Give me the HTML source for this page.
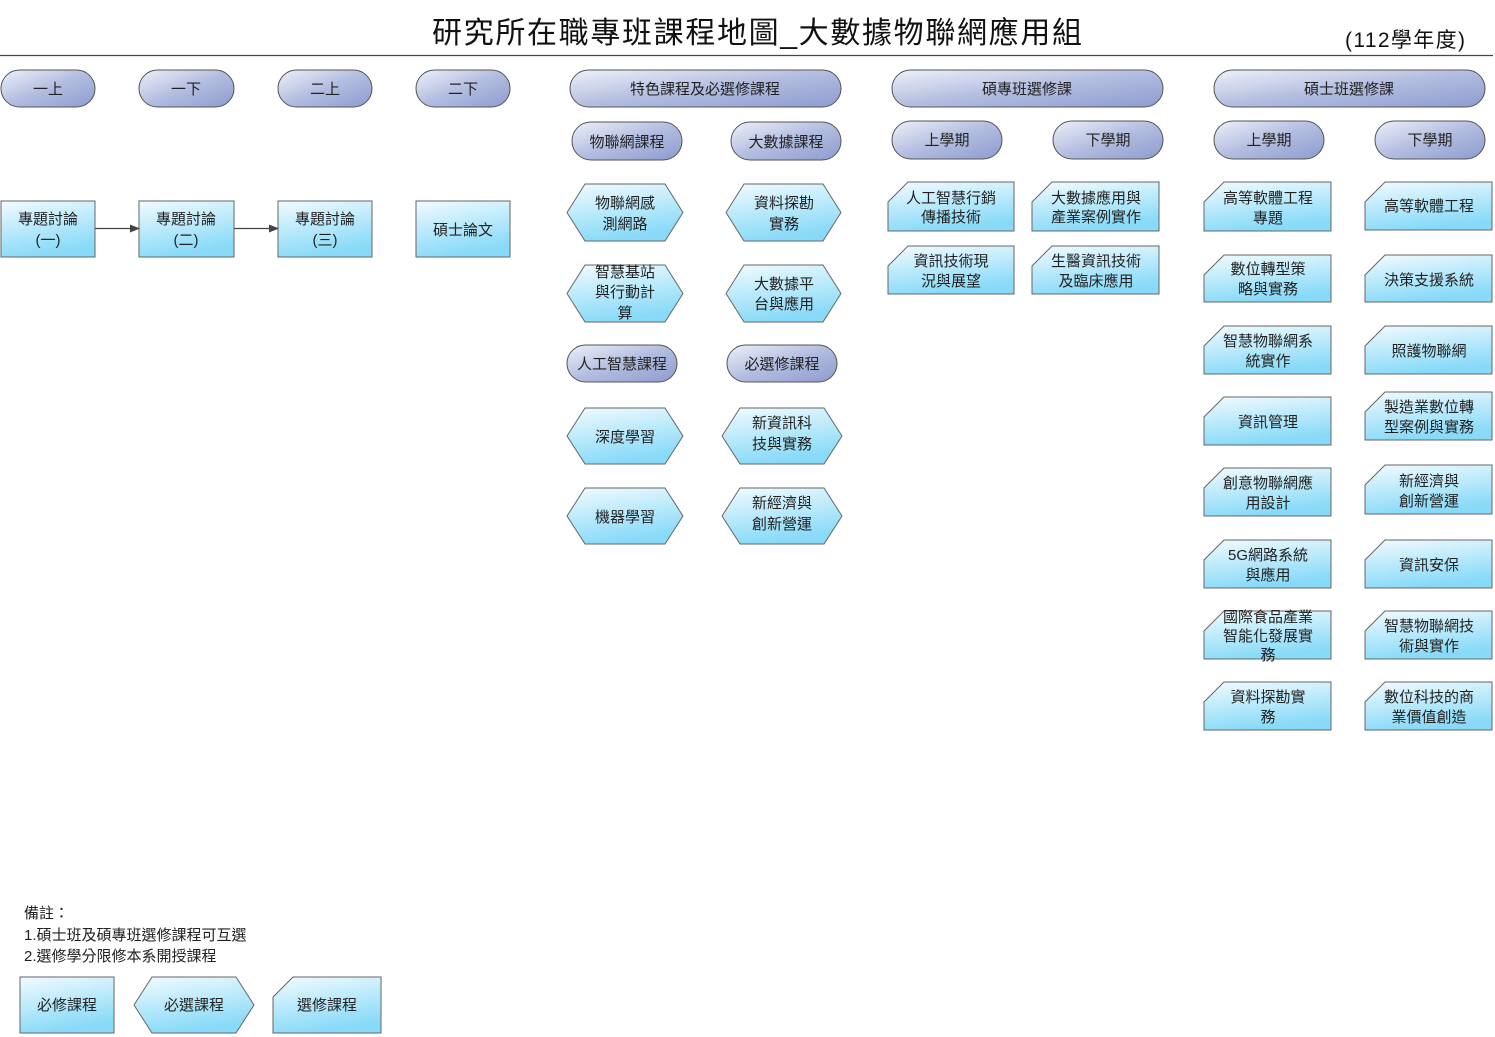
<!DOCTYPE html>
<html><head><meta charset="utf-8"><style>
html,body{margin:0;padding:0;background:#fff;}
svg{display:block;font-family:"Liberation Sans","Noto Sans CJK TC","WenQuanYi Zen Hei",sans-serif;}
</style></head><body>
<svg width="1495" height="1037" viewBox="0 0 1495 1037" xmlns="http://www.w3.org/2000/svg">
<defs>
<linearGradient id="pg" x1="0" y1="0" x2="1" y2="1">
<stop offset="0" stop-color="#eef1f9"/><stop offset="0.5" stop-color="#b3bde0"/><stop offset="1" stop-color="#8d9ccf"/>
</linearGradient>
<linearGradient id="bg" x1="0" y1="0" x2="0.3" y2="1">
<stop offset="0" stop-color="#f2fbff"/><stop offset="1" stop-color="#88daf8"/>
</linearGradient>
<marker id="ar" markerWidth="10" markerHeight="8" refX="9" refY="4" orient="auto" markerUnits="userSpaceOnUse"><path d="M0,0 L10,4 L0,8 z" fill="#444"/></marker>
</defs>
<text x="432" y="43" font-size="30" textLength="650" lengthAdjust="spacing" fill="#111">研究所在職專班課程地圖_大數據物聯網應用組</text>
<text x="1345" y="47" font-size="21" textLength="120" lengthAdjust="spacing" fill="#111">(112學年度)</text>
<line x1="0" y1="55.5" x2="1493" y2="55.5" stroke="#444" stroke-width="1.2"/>

<g stroke="#555" stroke-width="1" fill="url(#pg)">
<rect x="1" y="70" width="94" height="37" rx="18.5"/>
<rect x="139" y="70" width="95" height="37" rx="18.5"/>
<rect x="278" y="70" width="94" height="37" rx="18.5"/>
<rect x="416" y="70" width="94" height="37" rx="18.5"/>
<rect x="570" y="70" width="271" height="37" rx="18.5"/>
<rect x="892" y="70" width="271" height="37" rx="18.5"/>
<rect x="1214" y="70" width="271" height="37" rx="18.5"/>
<rect x="572" y="122" width="110" height="38" rx="19"/>
<rect x="731" y="122" width="110" height="38" rx="19"/>
<rect x="892" y="121" width="110" height="38" rx="19"/>
<rect x="1053" y="121" width="110" height="38" rx="19"/>
<rect x="1214" y="121" width="110" height="38" rx="19"/>
<rect x="1375" y="121" width="110" height="38" rx="19"/>
<rect x="567" y="345" width="110" height="37" rx="18.5"/>
<rect x="727" y="345" width="110" height="37" rx="18.5"/>
</g>
<g font-size="15" text-anchor="middle" fill="#222">
<text x="48" y="94">一上</text><text x="186" y="94">一下</text><text x="325" y="94">二上</text><text x="463" y="94">二下</text>
<text x="705" y="94">特色課程及必選修課程</text><text x="1027" y="94">碩專班選修課</text><text x="1349" y="94">碩士班選修課</text>
<text x="627" y="147">物聯網課程</text><text x="786" y="147">大數據課程</text>
<text x="947" y="145">上學期</text><text x="1108" y="145">下學期</text>
<text x="1269" y="145">上學期</text><text x="1430" y="145">下學期</text>
<text x="622" y="369">人工智慧課程</text><text x="782" y="369">必選修課程</text>
</g>

<g stroke="#666" stroke-width="1" fill="url(#bg)">
<rect x="1" y="201" width="94" height="56"/>
<rect x="139" y="201" width="95" height="56"/>
<rect x="278" y="201" width="94" height="56"/>
<rect x="416" y="201" width="94" height="56"/>
<rect x="20" y="977" width="94" height="56"/>
</g>
<g stroke="#444" stroke-width="1.2">
<line x1="95" y1="228.5" x2="139" y2="228.5" marker-end="url(#ar)"/>
<line x1="234" y1="228.5" x2="278" y2="228.5" marker-end="url(#ar)"/>
</g>
<g font-size="15" text-anchor="middle" fill="#222">
<text x="48" y="224">專題討論</text><text x="48" y="245">(一)</text>
<text x="186" y="224">專題討論</text><text x="186" y="245">(二)</text>
<text x="325" y="224">專題討論</text><text x="325" y="245">(三)</text>
<text x="463" y="235">碩士論文</text>
<text x="67" y="1010">必修課程</text>
</g>

<g stroke="#666" stroke-width="1" fill="url(#bg)">
<path d="M567,212.5 L585,184 L665,184 L683,212.5 L665,241 L585,241 Z"/>
<path d="M726,212.5 L744,184 L823,184 L841,212.5 L823,241 L744,241 Z"/>
<path d="M567,293.5 L585,265 L665,265 L683,293.5 L665,322 L585,322 Z"/>
<path d="M726,293.5 L744,265 L823,265 L841,293.5 L823,322 L744,322 Z"/>
<path d="M567,436 L585,408 L665,408 L683,436 L665,464 L585,464 Z"/>
<path d="M722,436 L740,408 L824,408 L842,436 L824,464 L740,464 Z"/>
<path d="M567,516 L585,488 L665,488 L683,516 L665,544 L585,544 Z"/>
<path d="M722,516 L740,488 L824,488 L842,516 L824,544 L740,544 Z"/>
<path d="M134,1005 L152,977 L236,977 L254,1005 L236,1033 L152,1033 Z"/>
</g>
<g font-size="15" text-anchor="middle" fill="#222">
<text x="625" y="208">物聯網感</text><text x="625" y="229">測網路</text>
<text x="784" y="208">資料探勘</text><text x="784" y="229">實務</text>
<text x="625" y="277">智慧基站</text><text x="625" y="297">與行動計</text><text x="625" y="318">算</text>
<text x="784" y="289">大數據平</text><text x="784" y="309">台與應用</text>
<text x="625" y="442">深度學習</text>
<text x="782" y="428">新資訊科</text><text x="782" y="449">技與實務</text>
<text x="625" y="522">機器學習</text>
<text x="782" y="508">新經濟與</text><text x="782" y="529">創新營運</text>
<text x="194" y="1010">必選課程</text>
</g>

<g stroke="#666" stroke-width="1" fill="url(#bg)">
<path d="M888,231 L888,202 L908,182 L1014,182 L1014,231 Z"/>
<path d="M1032,231 L1032,202 L1052,182 L1159,182 L1159,231 Z"/>
<path d="M888,294 L888,266 L908,246 L1014,246 L1014,294 Z"/>
<path d="M1032,294 L1032,266 L1052,246 L1159,246 L1159,294 Z"/>

<path d="M1204,231 L1204,202 L1224,182 L1331,182 L1331,231 Z"/>
<path d="M1204,302 L1204,275 L1224,255 L1331,255 L1331,302 Z"/>
<path d="M1204,374 L1204,346 L1224,326 L1331,326 L1331,374 Z"/>
<path d="M1204,445 L1204,417 L1224,397 L1331,397 L1331,445 Z"/>
<path d="M1204,516 L1204,488 L1224,468 L1331,468 L1331,516 Z"/>
<path d="M1204,588 L1204,560 L1224,540 L1331,540 L1331,588 Z"/>
<path d="M1204,659 L1204,631 L1224,611 L1331,611 L1331,659 Z"/>
<path d="M1204,730 L1204,702 L1224,682 L1331,682 L1331,730 Z"/>

<path d="M1365,230 L1365,202 L1385,182 L1492,182 L1492,230 Z"/>
<path d="M1365,302 L1365,275 L1385,255 L1492,255 L1492,302 Z"/>
<path d="M1365,374 L1365,346 L1385,326 L1492,326 L1492,374 Z"/>
<path d="M1365,440 L1365,412 L1385,392 L1492,392 L1492,440 Z"/>
<path d="M1365,514 L1365,485 L1385,465 L1492,465 L1492,514 Z"/>
<path d="M1365,588 L1365,560 L1385,540 L1492,540 L1492,588 Z"/>
<path d="M1365,659 L1365,631 L1385,611 L1492,611 L1492,659 Z"/>
<path d="M1365,730 L1365,702 L1385,682 L1492,682 L1492,730 Z"/>

<path d="M273,1033 L273,997 L293,977 L381,977 L381,1033 Z"/>
</g>
<g font-size="15" text-anchor="middle" fill="#222">
<text x="951" y="203">人工智慧行銷</text><text x="951" y="222">傳播技術</text>
<text x="1096" y="203">大數據應用與</text><text x="1096" y="222">產業案例實作</text>
<text x="951" y="266">資訊技術現</text><text x="951" y="286">況與展望</text>
<text x="1096" y="266">生醫資訊技術</text><text x="1096" y="286">及臨床應用</text>

<text x="1268" y="203">高等軟體工程</text><text x="1268" y="223">專題</text>
<text x="1268" y="274">數位轉型策</text><text x="1268" y="294">略與實務</text>
<text x="1268" y="346">智慧物聯網系</text><text x="1268" y="366">統實作</text>
<text x="1268" y="427">資訊管理</text>
<text x="1268" y="488">創意物聯網應</text><text x="1268" y="508">用設計</text>
<text x="1268" y="560">5G網路系統</text><text x="1268" y="580">與應用</text>
<text x="1268" y="622">國際食品產業</text><text x="1268" y="641">智能化發展實</text><text x="1268" y="660">務</text>
<text x="1268" y="702">資料探勘實</text><text x="1268" y="722">務</text>

<text x="1429" y="211">高等軟體工程</text>
<text x="1429" y="285">決策支援系統</text>
<text x="1429" y="356">照護物聯網</text>
<text x="1429" y="412">製造業數位轉</text><text x="1429" y="432">型案例與實務</text>
<text x="1429" y="486">新經濟與</text><text x="1429" y="506">創新營運</text>
<text x="1429" y="570">資訊安保</text>
<text x="1429" y="631">智慧物聯網技</text><text x="1429" y="651">術與實作</text>
<text x="1429" y="702">數位科技的商</text><text x="1429" y="722">業價值創造</text>

<text x="327" y="1010">選修課程</text>
</g>

<g font-size="15" fill="#222">
<text x="24" y="918">備註：</text>
<text x="24" y="940">1.碩士班及碩專班選修課程可互選</text>
<text x="24" y="961">2.選修學分限修本系開授課程</text>
</g>
</svg>
</body></html>
